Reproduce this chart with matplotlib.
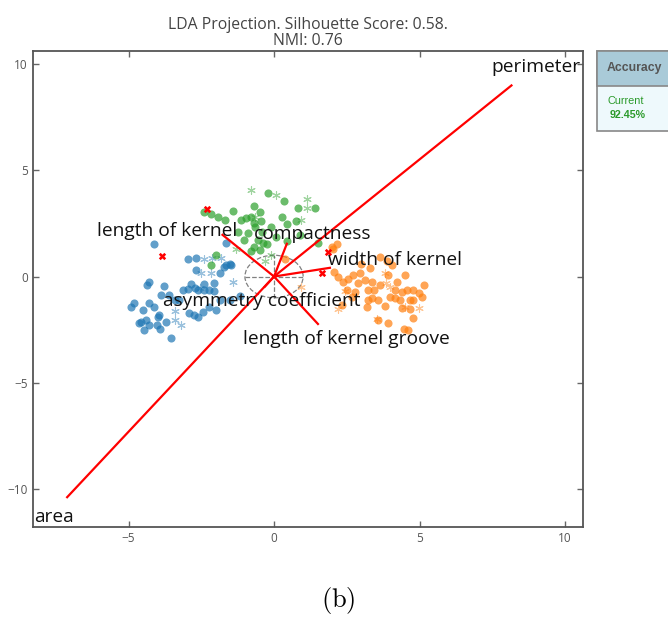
import numpy as np
import matplotlib
matplotlib.use("Agg")
import matplotlib.pyplot as plt
from matplotlib.patches import Circle, Rectangle

plt.rcParams['font.family'] = ['Open Sans', 'DejaVu Sans']
plt.rcParams['mathtext.fontset'] = 'cm'

# LDA scores, Kama (blue), Rosa (green), Canadian (orange); circles = train, stars = test
kama_train_x = [-4.14, -2.97, -2.68, -1.72, -1.49, -2.68, -1.87, -4.29, -4.37, -3.77, -2.85, -2.39,
                -2.07, -3.14, -2.97, -2.73, -2.60, -2.39, -2.22, -2.07, -3.88, -3.60, -3.42, -4.80,
                -4.92, -4.29, -4.11, -4.52, -3.94, -2.91, -2.76, -2.62, -2.45, -2.22, -1.99, -4.57,
                -4.63, -4.40, -4.29, -4.02, -3.91, -4.48, -3.71, -4.00, -3.54, -1.87, -1.64, -1.64,
                -1.53, -3.25, -1.53, -1.18]
kama_train_y = [1.54, 0.82, 0.87, 0.47, 0.52, 0.32, 0.16, -0.24, -0.39, -0.44, -0.36, -0.34,
                -0.31, -0.63, -0.58, -0.55, -0.63, -0.63, -0.63, -0.67, -0.89, -0.86, -1.10, -1.25,
                -1.41, -1.25, -1.41, -1.57, -1.80, -1.72, -1.80, -1.88, -1.65, -1.41, -1.57, -2.12,
                -2.19, -2.04, -2.27, -2.27, -2.46, -2.51, -2.12, -1.88, -2.90, -1.10, 1.57, 0.55,
                0.58, -1.10, -1.10, -0.91]
kama_test_x = [-2.41, -2.14, -2.50, -2.18, -1.41, -3.42, -3.42, -3.19, -2.53, -1.81]
kama_test_y = [0.82, 0.87, 0.16, 0.16, -0.28, -1.61, -2.04, -2.27, -0.55, 0.87]

rosa_train_x = [-0.21, 0.34, -0.69, -0.49, -1.41, -2.18, -2.41, -1.91, -1.70, -1.15, -0.95, -0.80,
                -0.69, -0.46, -0.67, 0.26, 0.83, 1.40, 0.74, 0.46, -0.90, -0.09, 0.08, -0.55,
                -0.38, -0.23, -0.69, -0.78, -0.49, 0.43, -1.99, -2.16, 1.52, -1.25, -1.04, -0.42,
                0.89]
rosa_train_y = [3.93, 3.53, 3.30, 3.03, 3.09, 2.94, 3.03, 2.82, 2.67, 2.67, 2.75, 2.78,
                2.51, 2.62, 2.35, 2.82, 3.22, 3.22, 2.62, 2.47, 2.04, 2.31, 1.88, 1.73,
                1.57, 1.53, 1.41, 1.21, 1.26, 1.65, 1.02, 0.55, 1.57, 2.10, 1.73, 2.10,
                1.96]
rosa_test_x = [-0.78, 0.06, 1.15, 1.12, 0.94, -0.67, -1.30, -0.32, -0.11]
rosa_test_y = [4.08, 3.85, 3.66, 3.22, 2.67, 2.82, 1.30, 0.74, 1.02]

canadian_train_x = [2.15, 2.03, 2.07, 2.19, 2.38, 2.55, 2.72, 2.96, 2.88, 3.13, 3.36, 3.24,
                    3.45, 3.64, 3.88, 3.91, 4.22, 4.51, 4.39, 4.57, 4.79, 4.97, 5.14, 5.08,
                    4.79, 4.68, 4.33, 4.16, 3.99, 3.57, 3.36, 3.22, 3.19, 3.82, 4.39, 4.68,
                    4.79, 3.93, 3.57, 4.45, 4.62, 2.78, 2.67, 2.50, 0.37, 1.98, 2.33, 4.06,
                    2.99, 3.30, 4.16, 3.64]
canadian_train_y = [1.54, 1.29, 0.19, 0.00, -0.24, -0.12, 0.08, 0.16, -0.31, -0.16, -0.24, -0.63,
                    -0.63, 0.94, 0.71, 0.08, -0.24, 0.08, -0.71, -0.63, -0.63, -0.78, -0.39, -0.94,
                    -1.10, -1.10, -1.10, -1.02, -0.94, -1.10, -1.02, -1.10, -1.41, -1.38, -1.49, -1.53,
                    -1.96, -2.19, -2.04, -2.48, -2.51, -0.71, -0.97, -0.63, 0.82, 1.41, -1.33, 0.55,
                    0.60, 0.41, -0.63, -0.39]
canadian_test_x = [3.82, 3.99, 4.51, 2.44, 2.19, 3.55, 4.97, 0.94, 3.85]
canadian_test_y = [0.16, -0.47, -1.43, -0.66, -1.53, -1.99, -1.49, -0.47, -0.30]

# misclassified samples
wrong_x = [-2.32, -3.84, 1.85, 1.64]
wrong_y = [3.19, 0.97, 1.16, 0.17]

# feature loadings and where their names sit
features = ['area', 'perimeter', 'compactness', 'length of kernel', 'width of kernel',
            'asymmetry coefficient', 'length of kernel groove']
load_x = [-7.11, 8.16, 0.44, -1.77, 1.92, -0.32, 1.51]
load_y = [-10.37, 8.98, 1.54, 1.96, 0.41, -0.48, -2.23]
label_x = [-7.56, 8.99, 1.33, -3.67, 4.16, -0.42, 2.47]
label_y = [-11.28, 9.83, 2.01, 2.15, 0.79, -1.14, -2.93]

silhouette = 0.58
nmi = 0.76
accuracy = 92.45

fig = plt.figure(figsize=(6.68, 6.21), dpi=100)
ax = fig.add_axes([0.0487, 0.1514, 0.8241, 0.7665])

asterisk = (6, 2, 0)
groups = [
    (kama_train_x, kama_train_y, kama_test_x, kama_test_y, '#1f77b4'),
    (rosa_train_x, rosa_train_y, rosa_test_x, rosa_test_y, '#2ca02c'),
    (canadian_train_x, canadian_train_y, canadian_test_x, canadian_test_y, '#ff7f0e'),
]
for tx, ty, sx, sy, c in groups:
    ax.scatter(tx, ty, s=34, color=c, alpha=0.7, linewidths=0, zorder=2)
    ax.scatter(sx, sy, s=30, marker=asterisk, color=c, alpha=0.45, linewidths=0.8, zorder=2)

ax.scatter(wrong_x, wrong_y, s=28, marker='X', color='red', linewidths=0, zorder=3)

# unit circle with dashed crosshair
ax.add_patch(Circle((0, 0), 1.0, fill=False, ls='--', lw=0.9, color='gray', zorder=1))
ax.plot([-1, 1], [0, 0], ls='--', lw=0.9, color='gray', zorder=1)
ax.plot([0, 0], [-1, 1], ls='--', lw=0.9, color='gray', zorder=1)

for name, lx, ly, tx, ty in zip(features, load_x, load_y, label_x, label_y):
    ax.plot([0, lx], [0, ly], color='red', lw=1.6, zorder=4)
    ax.text(tx, ty, name, fontsize=13.8, color='#111111', ha='center', va='center', zorder=5)

ax.set_xlim(-8.3, 10.62)
ax.set_ylim(-11.77, 10.6)
ax.set_xticks([-5, 0, 5, 10])
ax.set_yticks([-10, -5, 0, 5, 10])
ax.tick_params(direction='in', length=4, width=1, color='#666666', labelcolor='#555555',
               labelsize=8.5, top=True, right=True)
for sp in ax.spines.values():
    sp.set_color('#555555')
    sp.set_linewidth(1.3)

ax.set_title(f'LDA Projection. Silhouette Score: {silhouette:.2f}.\nNMI: {nmi:.2f}',
             fontsize=11.3, color='#444444', linespacing=1.0, pad=4)

# accuracy panel at the right
fig.patches.append(Rectangle((597 / 668, 1 - 131 / 621), 0.2, 80 / 621, transform=fig.transFigure,
                             facecolor='#eef9fc', edgecolor='#888888', lw=1.2))
fig.patches.append(Rectangle((597 / 668, 1 - 86 / 621), 0.2, 35 / 621, transform=fig.transFigure,
                             facecolor='#a9cad8', edgecolor='#888888', lw=1.2))
fig.text(607 / 668, 1 - 68 / 621, 'Accuracy', fontsize=8.8, fontweight='bold', color='#555555',
         va='center', ha='left', family=['Liberation Sans', 'DejaVu Sans'])
fig.text(607 / 668, 1 - 101 / 621, 'Current', fontsize=7.8, color='#2a9a2a', va='center', ha='left',
         family=['Liberation Sans', 'DejaVu Sans'])
fig.text(610 / 668, 1 - 115 / 621, f'{accuracy:.2f}%', fontsize=7.7, fontweight='bold', color='#2a9a2a',
         va='center', ha='left', family=['Liberation Sans', 'DejaVu Sans'])

fig.text(338 / 668, 1 - 601 / 621, r'$\mathrm{(b)}$', fontsize=19, ha='center', va='center')

fig.savefig('out.png', dpi=100)
